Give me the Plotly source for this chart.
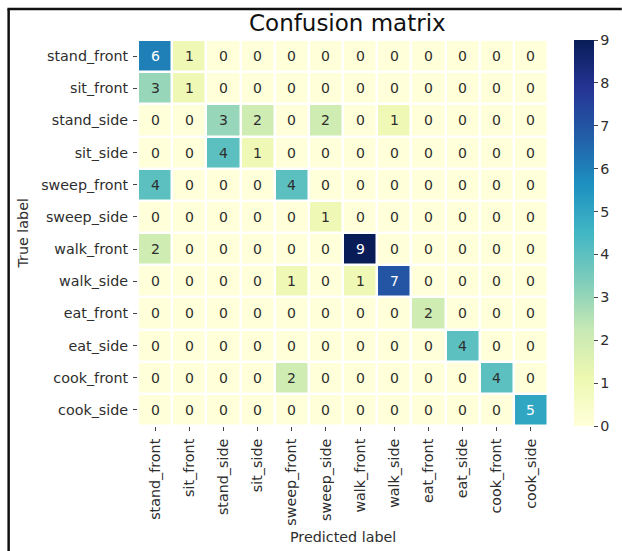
import plotly.graph_objects as go
import plotly.colors as pc

# Class names (rows = true label, columns = predicted label)
labels = ["stand_front", "sit_front", "stand_side", "sit_side", "sweep_front",
          "sweep_side", "walk_front", "walk_side", "eat_front", "eat_side",
          "cook_front", "cook_side"]

# Confusion matrix counts
counts = [
    [6, 1, 0, 0, 0, 0, 0, 0, 0, 0, 0, 0],
    [3, 1, 0, 0, 0, 0, 0, 0, 0, 0, 0, 0],
    [0, 0, 3, 2, 0, 2, 0, 1, 0, 0, 0, 0],
    [0, 0, 4, 1, 0, 0, 0, 0, 0, 0, 0, 0],
    [4, 0, 0, 0, 4, 0, 0, 0, 0, 0, 0, 0],
    [0, 0, 0, 0, 0, 1, 0, 0, 0, 0, 0, 0],
    [2, 0, 0, 0, 0, 0, 9, 0, 0, 0, 0, 0],
    [0, 0, 0, 0, 1, 0, 1, 7, 0, 0, 0, 0],
    [0, 0, 0, 0, 0, 0, 0, 0, 2, 0, 0, 0],
    [0, 0, 0, 0, 0, 0, 0, 0, 0, 4, 0, 0],
    [0, 0, 0, 0, 2, 0, 0, 0, 0, 0, 4, 0],
    [0, 0, 0, 0, 0, 0, 0, 0, 0, 0, 0, 5],
]
colorbar_ticks = [0, 1, 2, 3, 4, 5, 6, 7, 8, 9]

ZMIN, ZMAX = 0, 9
FONT = "DejaVu Sans"
DARK = "#2e2e2e"
TICK_SIZE = 14.3
scale = pc.sequential.YlGnBu  # light -> dark


def cell_colour(v):
    t = (v - ZMIN) / (ZMAX - ZMIN)
    return pc.sample_colorscale(scale, [t])[0]


def luminance(rgb_str):
    vals = [float(c) for c in rgb_str[rgb_str.index("(") + 1:-1].split(",")[:3]]
    lin = []
    for c in vals:
        c = c / 255.0
        lin.append(c / 12.92 if c <= 0.03928 else ((c + 0.055) / 1.055) ** 2.4)
    return 0.2126 * lin[0] + 0.7152 * lin[1] + 0.0722 * lin[2]


fig = go.Figure(go.Heatmap(
    z=counts, x=labels, y=labels,
    colorscale=scale, zmin=ZMIN, zmax=ZMAX,
    xgap=2.5, ygap=2.5,
    hoverinfo="skip",
    colorbar=dict(
        thickness=20, len=1.0, lenmode="fraction", y=0.5, yanchor="middle",
        x=1.063, xanchor="left", xpad=0, ypad=0, outlinewidth=0,
        tickvals=colorbar_ticks, ticks="outside", ticklen=4, tickwidth=1,
        tickcolor="#444",
        tickfont=dict(family=FONT, size=TICK_SIZE, color=DARK),
    ),
))

# Cell annotations: white on dark cells, dark grey elsewhere
annotations = []
for i, row in enumerate(counts):
    for j, v in enumerate(row):
        col = "white" if luminance(cell_colour(v)) <= 0.408 else DARK
        annotations.append(dict(
            x=labels[j], y=labels[i], xref="x", yref="y", text=str(v),
            showarrow=False, font=dict(family=FONT, size=14, color=col)))

# Title and axis labels
annotations += [
    dict(text="Confusion matrix", x=0.51, y=1.044, xref="paper", yref="paper",
         xanchor="center", yanchor="middle", showarrow=False,
         font=dict(family=FONT, size=23, color="#111")),
    dict(text="Predicted label", x=0.5, y=-0.2876, xref="paper", yref="paper",
         xanchor="center", yanchor="middle", showarrow=False,
         font=dict(family=FONT, size=TICK_SIZE, color=DARK)),
    dict(text="True label", x=-0.2816, y=0.5, xref="paper", yref="paper",
         xanchor="center", yanchor="middle", showarrow=False, textangle=-90,
         font=dict(family=FONT, size=TICK_SIZE, color=DARK)),
]

# Frame lines along the left and top edges
shapes = [
    dict(type="line", xref="paper", yref="paper", x0=-0.3155, x1=-0.3155,
         y0=1.0805, y1=-0.33, line=dict(color="#111", width=2.5)),
    dict(type="line", xref="paper", yref="paper", x0=-0.3185, x1=1.18,
         y0=1.0805, y1=1.0805, line=dict(color="#111", width=2.5)),
]

axis_common = dict(
    showgrid=False, zeroline=False, showline=False,
    ticks="outside", ticklen=4, tickwidth=1, tickcolor="#444",
    ticklabelstandoff=2,
    tickfont=dict(family=FONT, size=TICK_SIZE, color=DARK),
)

fig.update_layout(
    width=622, height=551,
    margin=dict(l=138, r=72, t=40, b=125),
    paper_bgcolor="white", plot_bgcolor="white",
    xaxis=dict(**axis_common, tickangle=-90),
    yaxis=dict(**axis_common, autorange="reversed"),
    annotations=annotations,
    shapes=shapes,
    showlegend=False,
)

fig.write_html("out.html")
